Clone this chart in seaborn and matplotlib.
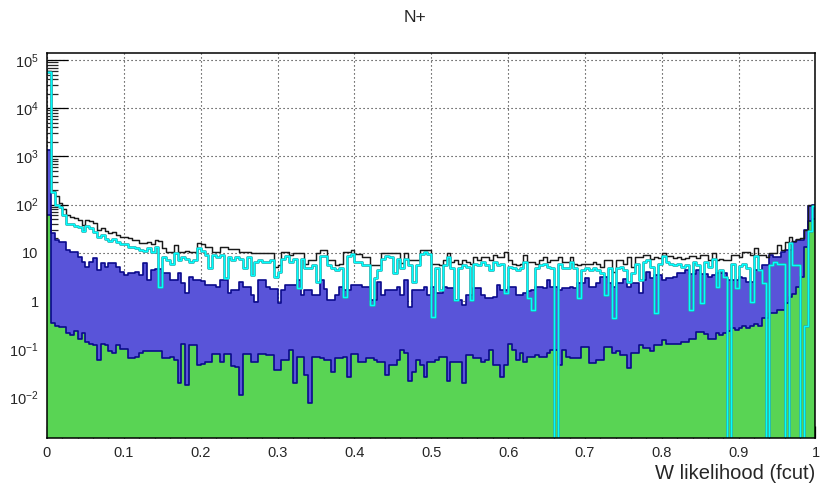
import numpy as np
import pandas as pd
import matplotlib
matplotlib.use("Agg")
import matplotlib.pyplot as plt
from matplotlib.ticker import LogLocator, NullFormatter, MultipleLocator
import seaborn as sns

# ---- histogram contents: 200 equal bins on [0, 1] ----
n_bins = 200
x_low, x_high = 0.0, 1.0

# all candidates (black outline)
hist_black = [
    60000, 190, 150, 108, 80, 60, 56, 52, 48, 38,
    48, 45, 41, 30, 32, 28, 26, 27, 23, 21,
    21, 20, 18.5, 18.5, 16, 16, 17, 15, 18.5, 18,
    12.6, 10.5, 10.5, 14.5, 10.5, 10.5, 11, 10.5, 10.5, 16,
    15, 13, 13, 10.5, 10.5, 13, 13, 12, 12, 12,
    10.5, 10.5, 10.5, 10, 10, 10, 10, 10, 10, 5,
    5.5, 10.5, 10.5, 9, 10, 10, 10, 6, 7, 7,
    10, 11.4, 11.4, 7, 7, 5.6, 6, 10.5, 10.5, 11.4,
    9.5, 9.5, 8, 8, 5.6, 5.6, 5.6, 10, 10, 10,
    10, 10, 6.1, 10, 7, 7, 7, 11.4, 11.4, 11.4,
    6, 6, 5.6, 7, 10, 6.5, 7, 6, 7, 6.5,
    6, 8, 7, 8, 8, 7, 9, 8, 8, 10.5,
    7, 6, 5.5, 6, 9, 6.5, 6.5, 6, 7, 8,
    6.5, 7, 7, 8, 6.5, 6.5, 8, 6, 5.6, 6,
    6, 6, 6.5, 6, 5, 7, 7, 4, 7, 7,
    6, 8, 5, 8.3, 8.3, 9, 9, 7.4, 8.3, 7.8,
    10, 8.5, 8.5, 7.8, 8, 7.5, 7.8, 8.5, 8.5, 7.8,
    9, 9, 7, 10, 7, 7.5, 7, 7, 9, 9,
    8, 10.5, 10.5, 9, 12.6, 9, 9, 8.3, 10, 10,
    14.5, 11.4, 17, 21.5, 18, 19, 20, 30, 98, 100,
]

# selected candidates (cyan outline)
hist_cyan = [
    56000, 185, 100, 90, 60, 40, 40, 36, 34, 28,
    36, 32, 27, 21, 23, 19, 17.5, 19, 16.5, 15,
    15, 13.5, 13, 12.5, 11.5, 11, 12.5, 10.5, 13.5, 2,
    8, 7, 6, 10, 7, 8, 7.5, 6.5, 7, 12.5,
    11, 9, 4.8, 9, 8, 9, 3, 8, 7, 8,
    7.5, 4.8, 8, 3.5, 6.5, 7, 6.5, 6.5, 7, 3.2,
    4, 7.5, 8.5, 6.5, 7.5, 1.85, 7.5, 4.8, 4.8, 5.5,
    2.5, 8.5, 8.5, 5.5, 4.8, 4.3, 4.8, 1.23, 8.5, 9.5,
    6.5, 6.5, 5.5, 5.5, 0.83, 3, 4.3, 7.5, 8.5, 8,
    3.8, 7.5, 4.8, 7.5, 5.5, 2.5, 5.5, 9.5, 10.5, 9.5,
    0.47, 4.8, 1.7, 5.5, 8, 4.8, 1.05, 4.8, 5.5, 5,
    1.05, 6, 5.5, 6.5, 5.5, 4.3, 6.5, 5.5, 6, 1.45,
    5, 4.8, 4.3, 4.8, 6.5, 1.15, 0.65, 4.8, 5.5, 6,
    5, 4.8, 0, 6, 4.8, 4.8, 6.5, 4.8, 1.15, 4.3,
    4.8, 4.3, 4.8, 4.3, 3.8, 1.33, 4.8, 0.44, 4.8, 5,
    4.3, 2.5, 3.8, 6, 2.7, 6.5, 7, 5, 0.56, 6,
    8.5, 6.5, 6, 5.5, 6, 5, 5.5, 0.65, 6.5, 5.5,
    0.9, 6.5, 5, 7.5, 2, 4.4, 3.2, 0, 6, 1.85,
    5.3, 6, 4.8, 0.97, 8.5, 4.4, 2.4, 0, 5.5, 6.5,
    6, 6, 0, 16, 5.6, 5.6, 0, 0.3, 28, 95,
]

# background component (blue filled)
hist_blue = [
    1350, 26, 18.5, 17, 17, 11.4, 10.5, 10.5, 8.3, 6.5,
    5.2, 6.5, 7.8, 4.4, 6.1, 5.2, 6.1, 6.1, 5.2, 4,
    3.5, 3.8, 3.8, 4, 3.5, 6.1, 2.7, 4.4, 4.6, 4.6,
    3.8, 3.8, 2.7, 2.7, 3.8, 2.4, 1.5, 3.2, 2.7, 2.7,
    2.6, 2.1, 2.1, 2.1, 2, 2.7, 2.7, 1.5, 1.7, 1.7,
    2.5, 2, 2, 1.33, 0.97, 2.7, 2.7, 2, 1.8, 1.8,
    0.9, 1.7, 2.1, 2.1, 2.1, 2.7, 1.33, 1.7, 1.7, 1.33,
    1.33, 2.7, 1.8, 1.05, 1.05, 1.33, 2, 1.7, 1.7, 2.1,
    2.1, 2.1, 2, 2, 1.05, 1.05, 2.5, 1.33, 1.7, 1.7,
    1.7, 2, 1.33, 2.7, 0.76, 1.7, 1.7, 1.7, 2, 1.33,
    2, 1.5, 1.5, 2, 1.85, 1.85, 1.05, 1.05, 0.83, 1.33,
    1.33, 1.85, 1.85, 1.33, 1.15, 1.15, 1.2, 2.1, 1.7, 1.7,
    2, 2, 1.33, 1.33, 1.5, 1.6, 1.7, 2, 2, 1.85,
    2.7, 2, 2, 1.7, 1.85, 1.85, 2, 1.85, 2.4, 2.4,
    3, 2, 2, 2.4, 3.2, 3.2, 2.4, 2, 2.4, 2.4,
    2.8, 2, 2.4, 2.4, 1.45, 2.7, 4, 3, 3.5, 3.5,
    2.7, 3, 3, 3.2, 3.9, 3.9, 4.4, 3.6, 3.6, 4.4,
    3.6, 3.6, 3.2, 3.5, 3.8, 3.8, 3.8, 2.7, 2.7, 2.7,
    3.2, 3, 2.5, 2.5, 4.4, 4.4, 5.6, 5.6, 9, 8.3,
    8.3, 10.5, 11.4, 11.4, 17, 18.5, 18.5, 30, 95, 98,
]

# signal component (green filled)
hist_green = [
    60, 0.35, 0.3, 0.29, 0.29, 0.22, 0.2, 0.24, 0.16, 0.22,
    0.14, 0.13, 0.12, 0.06, 0.13, 0.12, 0.09, 0.085, 0.12, 0.1,
    0.1, 0.065, 0.065, 0.07, 0.085, 0.09, 0.09, 0.09, 0.09, 0.09,
    0.066, 0.066, 0.07, 0.06, 0.02, 0.13, 0.018, 0.12, 0.12, 0.047,
    0.05, 0.055, 0.055, 0.08, 0.08, 0.055, 0.08, 0.08, 0.045, 0.043,
    0.011, 0.08, 0.08, 0.055, 0.055, 0.08, 0.08, 0.076, 0.076, 0.037,
    0.037, 0.06, 0.06, 0.096, 0.02, 0.07, 0.07, 0.029, 0.0075, 0.07,
    0.07, 0.065, 0.06, 0.06, 0.034, 0.065, 0.065, 0.07, 0.027, 0.08,
    0.08, 0.055, 0.055, 0.065, 0.065, 0.06, 0.055, 0.055, 0.029, 0.047,
    0.047, 0.06, 0.096, 0.083, 0.022, 0.034, 0.06, 0.047, 0.027, 0.055,
    0.055, 0.06, 0.07, 0.07, 0.022, 0.055, 0.055, 0.055, 0.02, 0.076,
    0.076, 0.065, 0.065, 0.055, 0.06, 0.096, 0.047, 0.047, 0.027, 0.047,
    0.13, 0.096, 0.06, 0.083, 0.055, 0.07, 0.07, 0.076, 0.07, 0.07,
    0.083, 0.096, 0.096, 0.047, 0.096, 0.07, 0.065, 0.065, 0.065, 0.11,
    0.11, 0.052, 0.052, 0.06, 0.06, 0.11, 0.11, 0.083, 0.09, 0.076,
    0.076, 0.04, 0.083, 0.083, 0.12, 0.105, 0.105, 0.09, 0.12, 0.12,
    0.155, 0.13, 0.13, 0.13, 0.13, 0.14, 0.14, 0.165, 0.165, 0.23,
    0.23, 0.21, 0.16, 0.16, 0.22, 0.2, 0.22, 0.24, 0.27, 0.25,
    0.27, 0.3, 0.28, 0.3, 0.33, 0.3, 0.44, 0.44, 0.56, 0.56,
    0.65, 0.65, 0.9, 1.2, 1.4, 2.0, 3.2, 13, 45, 50,
]

x_tick_values = [0.0, 0.1, 0.2, 0.3, 0.4, 0.5, 0.6, 0.7, 0.8, 0.9, 1.0]
x_tick_labels = ["0", "0.1", "0.2", "0.3", "0.4", "0.5", "0.6", "0.7", "0.8", "0.9", "1"]
y_tick_values = [1e-2, 1e-1, 1, 10, 1e2, 1e3, 1e4, 1e5]
y_tick_labels = [r"$\mathregular{10^{-2}}$", r"$\mathregular{10^{-1}}$", "1", "10",
                 r"$\mathregular{10^{2}}$", r"$\mathregular{10^{3}}$",
                 r"$\mathregular{10^{4}}$", r"$\mathregular{10^{5}}$"]
plot_title = "N+"
x_title = "W likelihood (fcut)"

# ---- styling ----
sns.set_style("ticks")
plt.rcParams["font.family"] = ["Liberation Sans", "DejaVu Sans"]
plt.rcParams["mathtext.fontset"] = "custom"
plt.rcParams["mathtext.rm"] = "Liberation Sans"
plt.rcParams["mathtext.it"] = "Liberation Sans:italic"
plt.rcParams["mathtext.bf"] = "Liberation Sans:bold"

green_fill = "#59d454"
blue_fill = "#5954d9"
outline_blue = "#0a0a8c"

bin_edges = [x_low + i * (x_high - x_low) / n_bins for i in range(n_bins + 1)]
bin_centers = [0.5 * (bin_edges[i] + bin_edges[i + 1]) for i in range(n_bins)]
df = pd.DataFrame({
    "x": bin_centers,
    "black": hist_black,
    "cyan": hist_cyan,
    "blue": hist_blue,
    "green": hist_green,
})

fig, ax = plt.subplots(figsize=(8.3, 4.95), dpi=100)
fig.subplots_adjust(left=0.0566, right=0.9825, bottom=0.1158, top=0.8935)

common = dict(data=df, x="x", bins=bin_edges, element="step", ax=ax, legend=False)

# filled stack: background then signal
sns.histplot(weights="blue", fill=True, color=blue_fill, alpha=1, linewidth=0, zorder=2, **common)
sns.histplot(weights="green", fill=True, color=green_fill, alpha=1, linewidth=0, zorder=3, **common)
sns.histplot(weights="blue", fill=False, color=outline_blue, linewidth=1.2, zorder=4, **common)
sns.histplot(weights="green", fill=False, color=outline_blue, linewidth=1.2, zorder=4, **common)

# outline histograms
sns.histplot(weights="black", fill=False, color="#1a1a1a", linewidth=1.05, zorder=5, **common)
sns.histplot(weights="cyan", fill=False, color="#2aa5a5", linewidth=1.9, zorder=6, **common)
sns.histplot(weights="cyan", fill=False, color="#00ffff", linewidth=1.0, zorder=7, **common)

ax.set_yscale("log")
ax.set_xlim(x_low, x_high)
ax.set_ylim(0.00146, 1.42e5)

ax.set_xticks(x_tick_values, x_tick_labels)
ax.xaxis.set_minor_locator(MultipleLocator(0.02))
ax.set_yticks(y_tick_values, y_tick_labels)
ax.yaxis.set_minor_locator(LogLocator(base=10, subs=np.arange(2, 10)))
ax.yaxis.set_minor_formatter(NullFormatter())

ax.tick_params(axis="x", which="major", direction="in", length=8.6, width=0.9,
               labelsize=10.5, pad=6, top=False, color="black")
ax.tick_params(axis="x", which="minor", direction="in", length=4.3, width=0.9, top=False)
ax.tick_params(axis="y", which="major", direction="in", length=15, width=0.9,
               labelsize=10.5, pad=6, right=False, color="black")
ax.tick_params(axis="y", which="minor", direction="in", length=8, width=0.9, right=False)

ax.set_axisbelow(True)
ax.grid(True, which="major", color="#222222", linestyle=(0, (1, 2.6)), linewidth=0.8)

for sp in ax.spines.values():
    sp.set_color("black")
    sp.set_linewidth(1.1)
    sp.set_zorder(10)

ax.set_ylabel("")
ax.set_xlabel(x_title, fontsize=14.5, ha="right")
ax.xaxis.set_label_coords(1.0, -0.068)

fig.text(0.5, 1 - 18 / 495, plot_title, ha="center", va="center", fontsize=12.5)

fig.savefig("out.png", dpi=100)
